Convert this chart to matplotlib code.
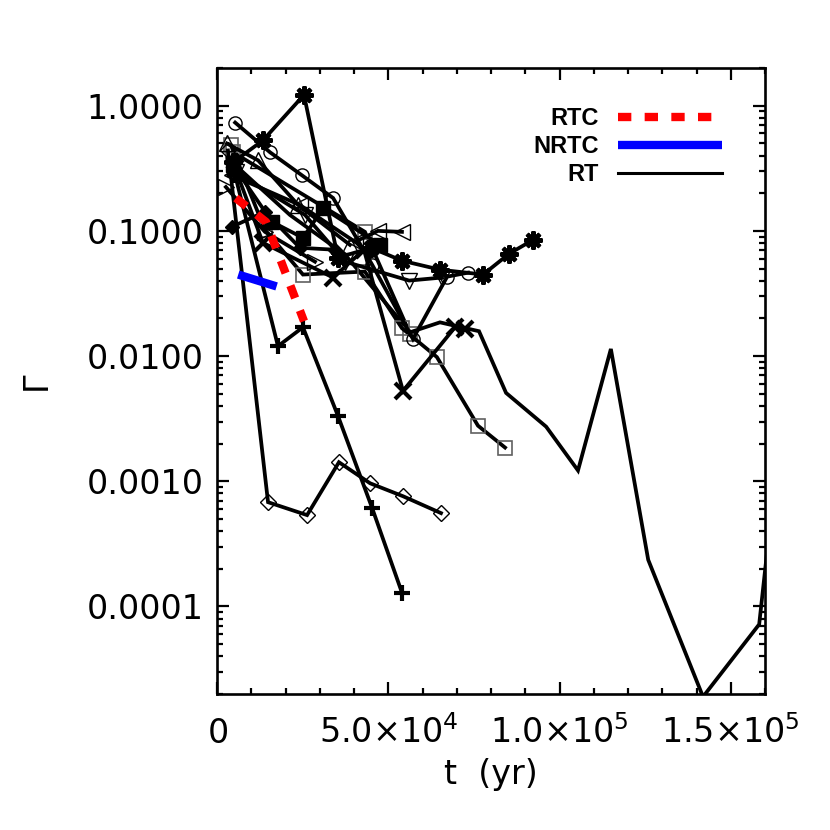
import matplotlib
matplotlib.use("Agg")
import matplotlib.pyplot as plt
from matplotlib.ticker import FixedLocator, MultipleLocator, NullFormatter, FuncFormatter
from matplotlib.lines import Line2D

# ---------------- data (t in yr, Gamma) ----------------
ast_t = [4700, 13400, 25400, 35300, 45000, 54000, 65100, 77700, 85300, 92300]
ast_g = [0.353, 0.528, 1.22, 0.0611, 0.0733, 0.0578, 0.0490, 0.0448, 0.0657, 0.0848]

circ_t = [5300, 15500, 24800, 33900, 45300, 57200, 67200, 73300]
circ_g = [0.733, 0.424, 0.278, 0.183, 0.0537, 0.0137, 0.0431, 0.0464]

sq_t = [4100, 14000, 25100, 43200, 54000, 64200, 76200, 84100]
sq_g = [0.481, 0.102, 0.0448, 0.0473, 0.0167, 0.00982, 0.00278, 0.00186]

sq2_t = [4700, 43200, 56400]
sq2_g = [0.424, 0.0982, 0.0150]

fsq_t = [4700, 16100, 25100, 31000, 47600]
fsq_g = [0.334, 0.118, 0.0880, 0.152, 0.0774]

plus_t = [5300, 17800, 25100, 35300, 45300, 54000]
plus_g = [0.278, 0.0120, 0.0170, 0.00334, 0.000611, 0.000129]

dia_t = [3200, 14900, 26300, 35600, 44700, 54300, 65400]
dia_g = [0.439, 0.000681, 0.000537, 0.00142, 0.000964, 0.000760, 0.000557]

x_t = [5300, 13400, 33900, 42900, 54300, 69500, 72400]
x_g = [0.316, 0.0803, 0.0424, 0.0707, 0.00527, 0.0170, 0.0164]

up_t = [2900, 12000, 23700, 38800]
up_g = [0.499, 0.366, 0.161, 0.0774]

down_t = [5500, 25700, 37400, 56100, 65700]
down_g = [0.294, 0.134, 0.0568, 0.0401, 0.0424]

left_t = [4400, 24200, 40300, 47000, 54000]
left_g = [0.278, 0.161, 0.0818, 0.100, 0.0982]

right_t = [2600, 14000, 28600]
right_g = [0.224, 0.0982, 0.0568]

fdia_t = [4400, 14000, 24200, 34500]
fdia_g = [0.108, 0.142, 0.0733, 0.0707]

rt_t = [3800, 21300, 37400, 56400, 65100, 76500, 84400, 96100, 105400, 115000,
        125900, 141900, 158300, 161500]
rt_g = [0.366, 0.134, 0.0645, 0.0155, 0.0186, 0.0158, 0.00508, 0.00273, 0.00122,
        0.0114, 0.000236, 1.9e-5, 7.2e-5, 0.000456]

rtc_t = [5500, 14300, 25400]
rtc_g = [0.183, 0.118, 0.0190]

nrtc_t = [6200, 17400]
nrtc_g = [0.0448, 0.0360]

xtick_vals = [0, 5e4, 1e5, 1.5e5]
xtick_labels = [r"$0$", r"$5.0{\times}10^{4}$", r"$1.0{\times}10^{5}$", r"$1.5{\times}10^{5}$"]
ytick_vals = [1e-4, 1e-3, 1e-2, 1e-1, 1.0]
legend_labels = ["RTC", "NRTC", "RT"]

# ---------------- figure ----------------
plt.rcParams['font.family'] = ['DejaVu Sans']
plt.rcParams['mathtext.fontset'] = 'dejavusans'
plt.rcParams['mathtext.default'] = 'regular'
fig = plt.figure(figsize=(8.3, 8.3), dpi=100)
ax = fig.add_axes([217/830, 1-694/830, 548/830, 626/830])

LW = 2.7
common = dict(color='black', lw=LW, solid_joinstyle='miter')

ax.plot(rt_t, rt_g, **common)
ax.plot(sq2_t, sq2_g, marker='s', ms=9.5, mfc='none', mec='#606060', mew=1.2, **common)
ax.plot(sq_t, sq_g, marker='s', ms=9.5, mfc='none', mec='#606060', mew=1.2, **common)
ax.plot(circ_t, circ_g, marker='o', ms=9.5, mfc='none', mec='black', mew=1.0, **common)
ax.plot(up_t, up_g, marker='^', ms=11, mfc='none', mec='black', mew=1.0, **common)
ax.plot(down_t, down_g, marker='v', ms=11, mfc='none', mec='black', mew=1.0, **common)
ax.plot(left_t, left_g, marker='<', ms=11, mfc='none', mec='black', mew=1.0, **common)
ax.plot(right_t, right_g, marker='>', ms=11, mfc='none', mec='black', mew=1.0, **common)
ax.plot(dia_t, dia_g, marker='D', ms=8, mfc='none', mec='black', mew=1.0, **common)
ax.plot(fdia_t, fdia_g, marker='D', ms=7, mfc='black', mec='black', **common)
ax.plot(fsq_t, fsq_g, marker='s', ms=10, mfc='black', mec='black', **common)
ax.plot(plus_t, plus_g, marker='+', ms=12, mec='black', mew=3, **common)
ax.plot(x_t, x_g, marker='x', ms=11, mec='black', mew=3, **common)
ax.plot(ast_t, ast_g, marker=(8, 2, 0), ms=13, mec='black', mew=3, **common)

rtc_line, = ax.plot(rtc_t, rtc_g, color='#ff0000', lw=6, dashes=(1.6, 1.6),
                    dash_capstyle='butt', zorder=5)
nrtc_line, = ax.plot(nrtc_t, nrtc_g, color='#0000ff', lw=6, solid_capstyle='butt', zorder=5)

ax.set_yscale('log')
ax.set_xlim(0, 1.6e5)
ax.set_ylim(2e-5, 2.0)

ax.xaxis.set_major_locator(FixedLocator(xtick_vals))
ax.set_xticklabels(xtick_labels)
ax.xaxis.set_minor_locator(MultipleLocator(1e4))
ax.yaxis.set_major_locator(FixedLocator(ytick_vals))
ax.yaxis.set_major_formatter(FuncFormatter(lambda v, p: f"{v:.4f}"))
ax.yaxis.set_minor_formatter(NullFormatter())

ax.tick_params(which='both', direction='in', top=True, right=True, width=1.6)
ax.tick_params(which='major', length=8.5, labelsize=24)
ax.tick_params(which='minor', length=4.5)
ax.tick_params(axis='x', which='major', pad=35)
ax.tick_params(axis='y', which='major', pad=9.5)
for lbl in ax.get_xticklabels():
    lbl.set_verticalalignment('baseline')
for s in ax.spines.values():
    s.set_linewidth(1.9)

ax.set_xlabel("t  (yr)", fontsize=24)
ax.xaxis.set_label_coords(0.5, -0.103)
ax.set_ylabel("Γ", fontsize=24)
ax.yaxis.set_label_coords(-0.300, 0.50)

rt_proxy = Line2D([], [], color='black', lw=2.2)
leg = ax.legend([rtc_line, nrtc_line, rt_proxy], legend_labels,
                loc='upper right', bbox_to_anchor=(0.9215, 0.938),
                markerfirst=False, frameon=False, borderpad=0, borderaxespad=0,
                handlelength=4.4, handletextpad=0.8, labelspacing=0.22,
                prop=dict(family='Liberation Sans', weight='bold', size=17))

fig.savefig("out.png", dpi=100)
